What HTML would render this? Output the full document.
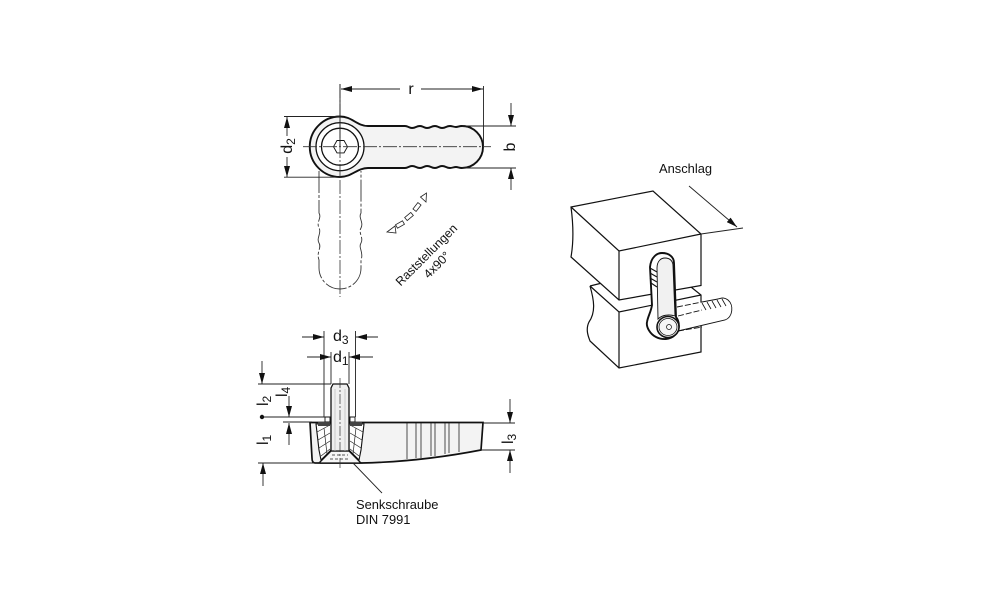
<!DOCTYPE html>
<html><head><meta charset="utf-8"><style>
html,body{margin:0;padding:0;background:#fff}
svg{display:block}
text{font-family:"Liberation Sans",sans-serif;fill:#111}
</style></head><body>
<svg width="1000" height="611" viewBox="0 0 1000 611" xmlns="http://www.w3.org/2000/svg">
<defs>
<marker id="a" markerWidth="11" markerHeight="6" refX="11" refY="3" orient="auto" markerUnits="userSpaceOnUse"><path d="M0 0L11 3L0 6Z" fill="#111"/></marker>
</defs>
<g fill="none" stroke="#222" stroke-width=".9">
<!-- top view ghost -->
<g stroke-dasharray="22 2 3 2" stroke="#333">
<path d="M319 171V213C322 218 316 222 319 228C322 233 316 238 319 243C322 248 316 252 319 260V268A21 21 0 0 0 361 268V260C364 252 358 248 361 243C364 238 358 233 361 228C364 222 358 218 361 213V171"/>
</g>
<!-- handle -->
<path d="M340 116.500C352 116.500 357 126 368 126H405C408 126 409 128 412 128C416 128 416 126 420 126C423 126 424 128 427 128C431 128 431 126 435 126C438 126 439 128 442 128C446 128 446 126 450 126C452 126 454 127 456 127C458 127 459 126 462 126A21 21 0 0 1 462 168C459 168 458 167 456 167C454 167 452 168 450 168C446 168 446 166 442 166C439 166 438 168 435 168C431 168 431 166 427 166C424 166 423 168 420 168C416 168 416 166 412 166C409 166 408 168 405 168H368C357 168 352 177 340 177A30.250 30.250 0 0 1 340 116.500Z" fill="#f3f3f3" stroke="#111" stroke-width="1.9"/>
<circle cx="340" cy="146.700" r="24" fill="#fff" stroke="#111" stroke-width="1.300"/>
<circle cx="340" cy="146.700" r="18.500" fill="#fff" stroke="#111" stroke-width="1.300"/>
<path d="M333.500 146.700L337 140.500H344L347.500 146.700L344 152.900H337Z" stroke="#111"/>
<path d="M303 146.700H491M340 84V180M340 180V297" stroke="#333" stroke-dasharray="14 2 2 2" stroke-width=".8"/>
<!-- dims top -->
<path d="M340 84V146M483.500 86V146"/>
<path d="M400 89H341" marker-end="url(#a)"/><path d="M421 89H483" marker-end="url(#a)"/>
<path d="M284 116.500H340M284 177.200H340"/>
<path d="M287 136V117" marker-end="url(#a)"/><path d="M287 157V177" marker-end="url(#a)"/>
<path d="M462 126H516M462 168H516"/>
<path d="M511 103V126" marker-end="url(#a)"/><path d="M511 190V168" marker-end="url(#a)"/>
<!-- rast -->
<g stroke-width=".8" stroke="#222">
<path d="M387 232L395 226L396 233Z"/>
<rect x="-4" y="-2" width="8" height="4" transform="translate(400 224.500) rotate(-30)"/>
<rect x="-4" y="-2" width="8" height="4" transform="translate(409 216.500) rotate(-40)"/>
<rect x="-4" y="-2" width="8" height="4" transform="translate(417 207) rotate(-52)"/>
<path d="M420.500 197L426.500 193L426 202Z"/>
</g>
<!-- side view body -->
<path d="M310 422.500H483L481 450C450 456 410 462 362 463H315C313 463 312 461 312 458Z" fill="#f3f3f3" stroke="#111" stroke-width="1.700"/>
<path d="M407 423V459M416 423V458M421 423V458M431 423V456M435 423V456M445 423V454M449 423V453M459 423V452" stroke-width=".8"/>
<!-- insert -->
<path d="M316 424H331V450L321 460L319 450Z" fill="#fff" stroke="#111" stroke-width="1.100"/>
<path d="M364 424H349V450L359 460L361 450Z" fill="#fff" stroke="#111" stroke-width="1.100"/>
<path d="M317 432L330 425M318 440L330 433M319 448L330 441M321 456L330 449M363 432L350 425M362 440L350 433M361 448L350 441M359 456L350 449M324 428L327 454M356 428L353 454" stroke-width=".7"/>
<path d="M325 417H330V422H325ZM350 417H355V422H350Z" fill="#fff" stroke="#111"/>
<path d="M318 422H330V426H318ZM350 422H362V426H350Z" fill="#444" stroke="none"/>
<path d="M319 463L331 451H349L361 463Z" fill="#f6f6f6" stroke="#111" stroke-width="1.300"/>
<path d="M332 455H348M330 459H350" stroke-dasharray="3 2" stroke-width=".7"/>
<path d="M331 451V388L333 384H347L349 388V451Z" fill="#efefef" stroke="#111" stroke-width="1.300"/>
<path d="M335 389V451M345 389V451" stroke="#bbb" stroke-width=".7"/>
<path d="M340 378V470" stroke="#333" stroke-dasharray="10 2 2 2" stroke-width=".7"/>
<!-- dims side -->
<path d="M324 331V417M355.500 331V417M331 352V384M349 352V384"/>
<path d="M302 337H324" marker-end="url(#a)"/><path d="M378 337H356" marker-end="url(#a)"/>
<path d="M307 357H331" marker-end="url(#a)"/><path d="M373 357H349" marker-end="url(#a)"/>
<path d="M258 384H331M262 417H325M283 422H312M258 463H320M353 463L382 493"/>
<path d="M262 361V384" marker-end="url(#a)"/>
<path d="M289 396V417" marker-end="url(#a)"/>
<path d="M289 445V423" marker-end="url(#a)"/>
<path d="M263 486V463" marker-end="url(#a)"/>
<circle cx="262" cy="417" r="2.200" fill="#111" stroke="none"/>
<path d="M483 423H515M481 450H515"/>
<path d="M510 399V423" marker-end="url(#a)"/><path d="M510 473V450" marker-end="url(#a)"/>
<!-- 3D -->
<g stroke="#111" stroke-width="1.200">
<path d="M590 286C594 300 596 312 589 322C585 330 589 338 590 341L619 368L701 352V295L690 286L610 280Z" fill="#fff" stroke="none"/>
<path d="M590 286C594 300 596 312 589 322C585 330 589 338 590 341L619 368L701 352V295L691 287"/>
<path d="M590 286L619 312L701 295M619 312V368M590 286L602 283"/>
<path d="M571 207C573 222 574 240 571 257L619 300L701 285.500V234L653 191Z" fill="#fff"/>
<path d="M571 207L619 251L701 234M619 251V300"/>
</g>
<path d="M701 234L743 228"/>
<path d="M689 186L737 227" marker-end="url(#a)"/>
<!-- rear handle -->
<path d="M676 306L702 302L718 299C724 297 727 298 730 302C733 306 733 315 725 320L678 331Z" fill="#fff" stroke="none"/>
<path d="M678 331L725 320C733 317 734 305 728 300C724 297 722 298 718 299L702 302" stroke="#111"/>
<path d="M677 307L702 302M678 316L702 310M678 331L702 327" stroke="#111" stroke-dasharray="6 2"/>
<path d="M702 303L706 310M707 302L711 309M712 301L716 308M717 300L721 307M722 299L726 306" stroke-width=".8" stroke="#111"/>
<!-- lever -->
<path d="M650 267C651 257 657 253 662 253C669 253 674 257 674 263L676 317C680 322 680 331 675 335C670 340 662 340 656 337C650 334 646 327 647 322C648 316 651 312 652 305Z" fill="#fff" stroke="#111" stroke-width="1.900"/>
<path d="M657 268C657 261 661 258 665 258C670 258 673 261 673 266L675 316C669 314 662 315 658 319Z" fill="#f1f1f1" stroke="#111" stroke-width=".9"/>
<path d="M650 268L657 272M650 273L657 277M650 278L657 282M651 283L657 287" stroke="#111" stroke-width="1.100"/>
<ellipse cx="668" cy="327" rx="11" ry="10.500" fill="#fff" stroke="#111" stroke-width="1.600"/>
<ellipse cx="668" cy="327" rx="9" ry="8.500" fill="#f6f6f6" stroke="#111" stroke-width=".8"/>
<circle cx="669" cy="327" r="2.500" stroke="#111" stroke-width=".7"/>
</g>
<!-- labels -->
<text x="411" y="94" font-size="16" text-anchor="middle">r</text>
<text transform="translate(292 146) rotate(-90)" font-size="16" text-anchor="middle">d<tspan font-size="12" dy="3">2</tspan></text>
<text transform="translate(515 147) rotate(-90)" font-size="16" text-anchor="middle">b</text>
<text transform="translate(426.500 255) rotate(-45)" font-size="12.300" text-anchor="middle" dy="4">Raststellungen</text>
<text transform="translate(437 265) rotate(-45)" font-size="12.300" text-anchor="middle" dy="4">4x90°</text>
<text x="333" y="341" font-size="16">d<tspan font-size="12" dy="3">3</tspan></text>
<text x="333" y="362" font-size="16">d<tspan font-size="12" dy="3">1</tspan></text>
<text transform="translate(268 406) rotate(-90)" font-size="16">l<tspan font-size="12" dy="3">2</tspan></text>
<text transform="translate(287 397) rotate(-90)" font-size="16">l<tspan font-size="12" dy="3">4</tspan></text>
<text transform="translate(268 445) rotate(-90)" font-size="16">l<tspan font-size="12" dy="3">1</tspan></text>
<text transform="translate(513 444) rotate(-90)" font-size="16">l<tspan font-size="12" dy="3">3</tspan></text>
<text x="356" y="509" font-size="12.900">Senkschraube</text>
<text x="356" y="524" font-size="12.900">DIN 7991</text>
<text x="659" y="173" font-size="12.900">Anschlag</text>
</svg>
</body></html>
